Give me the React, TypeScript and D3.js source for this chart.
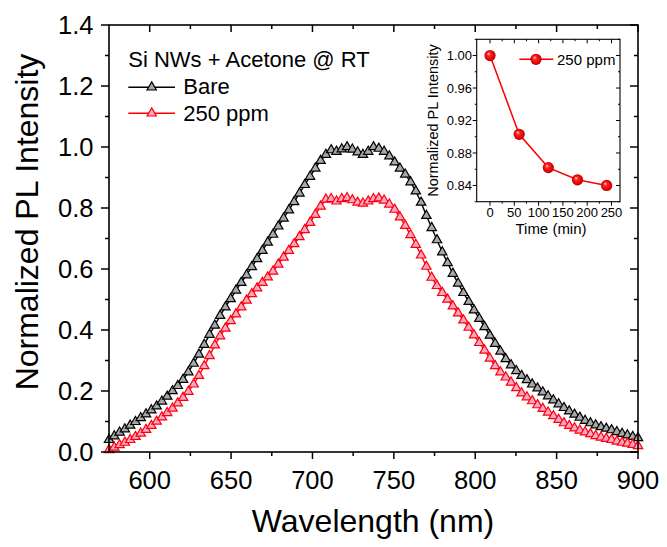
import React from "react";
import * as d3 from "d3";

const W = 667;
const H = 547;

// Main spectra: 101 samples from 575 nm to 900 nm
const wlStart = 575;
const wlStep = 3.25;
const bare = [
  0.040, 0.052, 0.064, 0.075, 0.087, 0.099, 0.112, 0.124, 0.137, 0.150,
  0.166, 0.182, 0.200, 0.217, 0.237, 0.262, 0.290, 0.320, 0.352, 0.385,
  0.415, 0.447, 0.475, 0.502, 0.530, 0.555, 0.580, 0.607, 0.633, 0.660,
  0.687, 0.713, 0.740, 0.766, 0.793, 0.820, 0.848, 0.876, 0.903, 0.930,
  0.955, 0.975, 0.990, 0.985, 0.993, 1.000, 0.992, 0.983, 0.975, 0.985,
  1.000, 0.995, 0.985, 0.970, 0.950, 0.930, 0.910, 0.885, 0.855, 0.818,
  0.775, 0.735, 0.695, 0.655, 0.620, 0.585, 0.553, 0.522, 0.493, 0.465,
  0.437, 0.410, 0.382, 0.355, 0.330, 0.305, 0.285, 0.266, 0.250, 0.236,
  0.222, 0.209, 0.196, 0.183, 0.170, 0.157, 0.145, 0.134, 0.123, 0.113,
  0.103, 0.095, 0.088, 0.082, 0.077, 0.072, 0.066, 0.060, 0.055, 0.050,
  0.046,
];
const ppm250 = [
  0.007, 0.015, 0.023, 0.031, 0.040, 0.050, 0.061, 0.073, 0.086, 0.100,
  0.114, 0.128, 0.143, 0.160, 0.178, 0.198, 0.222, 0.250, 0.282, 0.315,
  0.350, 0.380, 0.405, 0.430, 0.452, 0.475, 0.497, 0.518, 0.537, 0.555,
  0.573, 0.592, 0.615, 0.638, 0.660, 0.682, 0.705, 0.728, 0.752, 0.778,
  0.805, 0.828, 0.830, 0.822, 0.830, 0.833, 0.826, 0.818, 0.815, 0.822,
  0.830, 0.832, 0.825, 0.812, 0.795, 0.770, 0.742, 0.712, 0.680, 0.645,
  0.608, 0.572, 0.545, 0.522, 0.500, 0.478, 0.455, 0.432, 0.408, 0.383,
  0.358, 0.333, 0.307, 0.282, 0.262, 0.245, 0.228, 0.210, 0.193, 0.180,
  0.167, 0.154, 0.142, 0.130, 0.118, 0.106, 0.095, 0.086, 0.078, 0.071,
  0.065, 0.059, 0.053, 0.048, 0.044, 0.040, 0.035, 0.031, 0.028, 0.024,
  0.020,
];

// Inset data
const insetTime = [0, 60, 120, 180, 240];
const insetValue = [1.0, 0.903, 0.862, 0.847, 0.84];

// Tick labels
const xTicks = [600, 650, 700, 750, 800, 850, 900];
const xMinor = [625, 675, 725, 775, 825, 875];
const yTicks = [0, 0.2, 0.4, 0.6, 0.8, 1.0, 1.2, 1.4];
const yMinor = [0.1, 0.3, 0.5, 0.7, 0.9, 1.1, 1.3];
const inXTicks = [0, 50, 100, 150, 200, 250];
const inXMinor = [25, 75, 125, 175, 225];
const inYTicks = [0.84, 0.88, 0.92, 0.96, 1.0];
const inYMinor = [0.82, 0.86, 0.9, 0.94, 0.98, 1.02];

const FONT = "'Liberation Sans', Arial, Helvetica, sans-serif";

export default function App() {
  const L = 109, R = 638, T = 25, B = 452;
  const x = d3.scaleLinear().domain([575, 900]).range([L, R]);
  const y = d3.scaleLinear().domain([0, 1.4]).range([B, T]);

  const wl = bare.map((_, i) => wlStart + i * wlStep);
  const ptsBare = wl.map((w, i) => [x(w), y(bare[i])] as [number, number]);
  const ptsRed = wl.map((w, i) => [x(w), y(ppm250[i])] as [number, number]);
  const line = d3.line();
  const tri = d3.symbol(d3.symbolTriangle, 38)() as string;

  const iL = 476.7, iR = 620, iT = 39.3, iB = 201.7;
  const ix = d3.scaleLinear().domain([-27.4, 267.5]).range([iL, iR]);
  const iy = d3.scaleLinear().domain([0.82, 1.02]).range([iB, iT]);
  const inPts = insetTime.map((t, i) => [ix(t), iy(insetValue[i])] as [number, number]);

  const sphere = (cx: number, cy: number, k: string) => (
    <circle key={k} cx={cx} cy={cy} r={5.6} fill="url(#sph)" />
  );

  return (
    <svg width={W} height={H} style={{ display: "block", position: "absolute", left: 0, top: 0 }} fontFamily={FONT}>
      <defs>
        <radialGradient id="sph" cx="0.5" cy="0.5" r="0.5" fx="0.35" fy="0.32">
          <stop offset="0" stopColor="#ffd0d0" />
          <stop offset="0.35" stopColor="#ff2020" />
          <stop offset="0.85" stopColor="#e00000" />
          <stop offset="1" stopColor="#a00000" />
        </radialGradient>
      </defs>
      <rect x={0} y={0} width={W} height={H} fill="#fff" />

      {/* main series */}
      <path d={line(ptsBare) as string} fill="none" stroke="#000" strokeWidth={1.4} />
      {ptsBare.map((p, i) => (
        <path key={"b" + i} d={tri} transform={`translate(${p[0]},${p[1]})`} fill="#a8a8a8" stroke="#000" strokeWidth={1.2} />
      ))}
      <path d={line(ptsRed) as string} fill="none" stroke="#ff0000" strokeWidth={1.4} />
      {ptsRed.map((p, i) => (
        <path key={"r" + i} d={tri} transform={`translate(${p[0]},${p[1]})`} fill="#f7a6cf" stroke="#ff0000" strokeWidth={1.2} />
      ))}

      {/* main frame */}
      <rect x={L} y={T} width={R - L} height={B - T} fill="none" stroke="#000" strokeWidth={1.6} />
      {xTicks.map((t) => (
        <g key={"xt" + t}>
          <line x1={x(t)} x2={x(t)} y1={B} y2={B + 7} stroke="#000" strokeWidth={1.5} />
          <line x1={x(t)} x2={x(t)} y1={T} y2={T + 7} stroke="#000" strokeWidth={1.5} />
          <text x={x(t)} y={488.5} textAnchor="middle" fontSize={25.5}>{t}</text>
        </g>
      ))}
      {xMinor.map((t) => (
        <g key={"xm" + t}>
          <line x1={x(t)} x2={x(t)} y1={B} y2={B + 4} stroke="#000" strokeWidth={1.5} />
          <line x1={x(t)} x2={x(t)} y1={T} y2={T + 4} stroke="#000" strokeWidth={1.5} />
        </g>
      ))}
      {yTicks.map((t) => (
        <g key={"yt" + t}>
          <line x1={L - 8} x2={L} y1={y(t)} y2={y(t)} stroke="#000" strokeWidth={1.5} />
          <line x1={R - 8} x2={R} y1={y(t)} y2={y(t)} stroke="#000" strokeWidth={1.5} />
          <text x={93.5} y={y(t)} dy="0.36em" textAnchor="end" fontSize={25.5}>{t.toFixed(1)}</text>
        </g>
      ))}
      {yMinor.map((t) => (
        <g key={"ym" + t}>
          <line x1={L - 4} x2={L} y1={y(t)} y2={y(t)} stroke="#000" strokeWidth={1.5} />
          <line x1={R - 4} x2={R} y1={y(t)} y2={y(t)} stroke="#000" strokeWidth={1.5} />
        </g>
      ))}
      <text x={373} y={532} textAnchor="middle" fontSize={32}>Wavelength (nm)</text>
      <text transform={`translate(38,222) rotate(-90)`} textAnchor="middle" fontSize={32}>Normalized PL Intensity</text>

      {/* main legend */}
      <text x={128.3} y={66.7} fontSize={22}>Si NWs + Acetone @ RT</text>
      <line x1={128.3} x2={175} y1={87.3} y2={87.3} stroke="#000" strokeWidth={1.4} />
      <path d={tri} transform="translate(151.7,87.3)" fill="#a8a8a8" stroke="#000" strokeWidth={1.2} />
      <text x={183.3} y={94.3} fontSize={22}>Bare</text>
      <line x1={128.3} x2={175} y1={113.3} y2={113.3} stroke="#ff0000" strokeWidth={1.4} />
      <path d={tri} transform="translate(151.7,113.3)" fill="#f7a6cf" stroke="#ff0000" strokeWidth={1.2} />
      <text x={183.3} y={120.5} fontSize={22}>250 ppm</text>

      {/* inset */}
      <rect x={iL} y={iT} width={iR - iL} height={iB - iT} fill="#fff" stroke="#000" strokeWidth={1.1} />
      {inXTicks.map((t) => (
        <g key={"ixt" + t}>
          <line x1={ix(t)} x2={ix(t)} y1={iB} y2={iB + 4} stroke="#000" strokeWidth={1} />
          <line x1={ix(t)} x2={ix(t)} y1={iT} y2={iT + 4} stroke="#000" strokeWidth={1} />
          <text x={ix(t)} y={217.3} textAnchor="middle" fontSize={13}>{t}</text>
        </g>
      ))}
      {inXMinor.map((t) => (
        <g key={"ixm" + t}>
          <line x1={ix(t)} x2={ix(t)} y1={iB} y2={iB + 2} stroke="#000" strokeWidth={1} />
          <line x1={ix(t)} x2={ix(t)} y1={iT} y2={iT + 2} stroke="#000" strokeWidth={1} />
        </g>
      ))}
      {inYTicks.map((t) => (
        <g key={"iyt" + t}>
          <line x1={iL - 4} x2={iL} y1={iy(t)} y2={iy(t)} stroke="#000" strokeWidth={1} />
          <line x1={iR - 4} x2={iR} y1={iy(t)} y2={iy(t)} stroke="#000" strokeWidth={1} />
          <text x={472} y={iy(t)} dy="0.36em" textAnchor="end" fontSize={13}>{t.toFixed(2)}</text>
        </g>
      ))}
      {inYMinor.map((t) => (
        <g key={"iym" + t}>
          <line x1={iL - 2} x2={iL} y1={iy(t)} y2={iy(t)} stroke="#000" strokeWidth={1} />
          <line x1={iR - 2} x2={iR} y1={iy(t)} y2={iy(t)} stroke="#000" strokeWidth={1} />
        </g>
      ))}
      <text x={551} y={234} textAnchor="middle" fontSize={15}>Time (min)</text>
      <text transform={`translate(438.3,${(iT + iB) / 2}) rotate(-90)`} textAnchor="middle" fontSize={14.5}>Normalized PL Intensity</text>
      <path d={line(inPts) as string} fill="none" stroke="#ff0000" strokeWidth={1.5} />
      {inPts.map((p, i) => sphere(p[0], p[1], "s" + i))}
      <line x1={519.3} x2={553.3} y1={59.3} y2={59.3} stroke="#ff0000" strokeWidth={1.5} />
      {sphere(536, 59.3, "leg")}
      <text x={557} y={64.5} fontSize={15}>250 ppm</text>
    </svg>
  );
}
